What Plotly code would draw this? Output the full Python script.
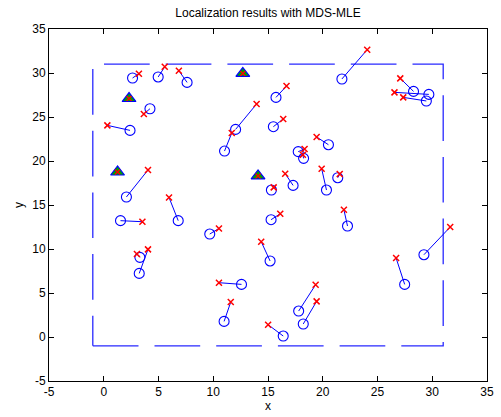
import plotly.graph_objects as go

# True node positions (blue circles)
true_x = [2.63, 4.97, 7.61, 4.22, 2.40, 15.73, 12.04, 15.49, 11.03, 20.52, 17.76, 18.25,
          21.75, 28.29, 29.69, 29.46, 2.07, 1.53, 6.80, 3.30, 3.24, 15.31, 17.29, 20.34,
          21.37, 15.28, 9.68, 15.19, 22.26, 27.48, 29.24, 12.58, 10.99, 16.39, 17.80, 18.22]
true_y = [29.43, 29.55, 28.93, 25.94, 23.48, 27.23, 23.59, 23.90, 21.13, 21.85, 21.06, 20.30,
          29.32, 27.91, 27.57, 26.82, 15.91, 13.22, 13.22, 9.05, 7.23, 16.70, 17.23, 16.70,
          18.10, 13.33, 11.70, 8.64, 12.61, 5.98, 9.35, 5.98, 1.77, 0.11, 2.95, 1.48]
# Estimated positions (red x)
est_x = [3.21, 5.57, 6.86, 3.66, 0.33, 16.69, 13.96, 16.39, 11.69, 19.44, 18.34, 18.18,
         24.06, 27.08, 26.55, 27.35, 4.04, 3.53, 5.96, 3.03, 4.04, 15.52, 16.57, 19.90,
         21.55, 16.12, 10.52, 14.38, 21.93, 26.70, 31.64, 10.52, 11.60, 15.01, 19.35, 19.44]
est_y = [29.92, 30.70, 30.26, 25.34, 24.05, 28.52, 26.48, 24.77, 23.18, 22.73, 21.36, 20.72,
         32.65, 29.39, 27.80, 27.23, 18.98, 13.10, 15.86, 9.43, 9.96, 17.00, 18.56, 19.13,
         18.52, 14.01, 12.34, 10.83, 14.47, 8.97, 12.50, 6.17, 3.98, 1.40, 5.94, 4.05]
# Anchor nodes
anchor_x = [2.31, 12.70, 1.26, 14.09]
anchor_y = [27.10, 29.95, 18.75, 18.30]
# Deployment region border
region_x = [-1, 31, 31, -1, -1]
region_y = [-1, -1, 31, 31, -1]

xticks = list(range(-5, 36, 5))
yticks = list(range(-5, 36, 5))

seg_x, seg_y = [], []
for tx, ty, ex, ey in zip(true_x, true_y, est_x, est_y):
    seg_x += [tx, ex, None]
    seg_y += [ty, ey, None]

BLUE = "rgb(0,0,255)"
RED = "rgb(255,0,0)"

fig = go.Figure()
fig.add_trace(go.Scatter(x=region_x, y=region_y, mode="lines",
                         line=dict(color="rgb(40,40,255)", width=1.3, dash="45.7px,16px"),
                         hoverinfo="skip"))
fig.add_trace(go.Scatter(x=seg_x, y=seg_y, mode="lines",
                         line=dict(color=BLUE, width=1)))
fig.add_trace(go.Scatter(x=true_x, y=true_y, mode="markers",
                         marker=dict(symbol="circle-open", size=10, color=BLUE,
                                     line=dict(color=BLUE, width=1.1))))
fig.add_trace(go.Scatter(x=est_x, y=est_y, mode="markers",
                         marker=dict(symbol="x-thin-open", size=6, color=RED,
                                     line=dict(color=RED, width=1.5))))
fig.add_trace(go.Scatter(x=anchor_x, y=anchor_y, mode="markers",
                         marker=dict(symbol="triangle-up", size=12, color="rgb(0,160,0)",
                                     line=dict(color=BLUE, width=1.2))))
fig.add_trace(go.Scatter(x=anchor_x, y=anchor_y, mode="markers",
                         marker=dict(symbol="x-thin-open", size=5, color=RED,
                                     line=dict(color=RED, width=1.3))))

axis_common = dict(showgrid=False, zeroline=False, showline=True, linecolor="black",
                   linewidth=1, mirror="ticks", ticks="inside", ticklen=5,
                   tickcolor="black", tickfont=dict(size=12, color="black"))
fig.update_xaxes(range=[-5, 35], tickvals=xticks, ticktext=[str(v) for v in xticks],
                 title=dict(text="x", font=dict(size=12, color="black"), standoff=2),
                 **axis_common)
fig.update_yaxes(range=[-5, 35], tickvals=yticks, ticktext=[str(v) for v in yticks],
                 title=dict(text="y", font=dict(size=12, color="black"), standoff=6),
                 **axis_common)
fig.update_layout(
    width=501, height=417,
    margin=dict(l=49, r=7, t=29, b=36),
    paper_bgcolor="white", plot_bgcolor="white",
    showlegend=False,
    font=dict(family="Liberation Sans, Arial, sans-serif", size=12, color="black"),
    title=dict(text="Localization results with MDS-MLE", x=0.5, xref="paper",
               y=1 - 13 / 417, yanchor="middle", font=dict(size=12, color="black")),
)
fig.write_html("out.html")
